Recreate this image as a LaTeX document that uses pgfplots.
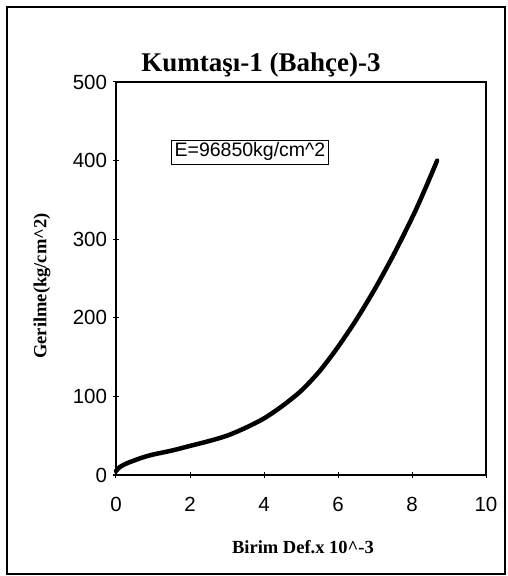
\documentclass[border=0pt]{standalone}
\usepackage{fontspec}
\setmainfont{Liberation Serif}
\newfontfamily\arial{Liberation Sans}
\usepackage{pgfplots}
\pgfplotsset{compat=1.18}
\begin{document}
\begin{tikzpicture}[x=1pt,y=1pt]
\useasboundingbox (0,0) rectangle (507,576);
\draw[line width=1.6pt] (7,2) rectangle (505,569);
\node[font=\fontsize{27}{30}\selectfont\bfseries] at (261,511) {Kumtaşı-1 (Bahçe)-3};
\node[font=\fontsize{18.5}{22}\selectfont\bfseries] at (303,29) {Birim Def.x 10\textasciicircum-3};
\node[font=\fontsize{18.5}{22}\selectfont\bfseries, rotate=90] at (42,290) {Gerilme(kg/cm\textasciicircum2)};
\begin{axis}[
  at={(116pt,101pt)}, anchor=south west,
  scale only axis, width=370pt, height=393pt,
  xmin=0, xmax=10, ymin=0, ymax=500,
  xtick={0,2,...,10}, ytick={0,100,...,500},
  xtick pos=bottom, ytick pos=left,
  tick align=center, major tick length=7pt,
  axis line style={line width=1.6pt},
  tick style={line width=1pt, black},
  tick label style={font=\arial\fontsize{20.5}{24}\selectfont},
  /pgf/number format/assume math mode=true,
  xticklabel style={yshift=-15pt},
  yticklabel style={xshift=-2pt},
  clip=false,
]
\addplot[black, line width=4.5pt, smooth, line cap=round] coordinates {
(0,5) (0.1,10) (0.3,15) (0.7,22) (1.0,26) (1.5,31) (2.0,37) (2.5,43)
(3.0,50) (3.5,60) (4.0,72) (4.5,88) (5.0,107) (5.5,132) (6.0,163)
(6.5,198) (7.0,237) (7.5,280) (8.0,327) (8.3,358) (8.68,400)
};
\node[draw, line width=0.6pt, font=\arial\fontsize{19.5}{22}\selectfont, inner sep=3pt, fill=white] at (axis cs:3.62,411) {E=96850kg/cm\textasciicircum2};
\end{axis}
\end{tikzpicture}
\end{document}
